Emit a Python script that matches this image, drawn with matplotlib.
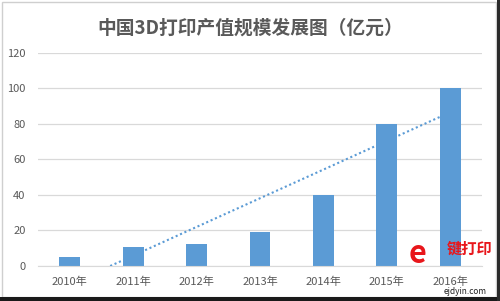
import numpy as np
import matplotlib
matplotlib.use("Agg")
import matplotlib.pyplot as plt
from matplotlib.patches import Rectangle

plt.rcParams['font.family'] = ['Noto Sans CJK SC', 'DejaVu Sans']

# chart data
years = ["2010年", "2011年", "2012年", "2013年", "2014年", "2015年", "2016年"]
values = [4.8, 10.5, 12.4, 19.3, 40, 80, 100]
yticks = [0, 20, 40, 60, 80, 100, 120]

title = "中国3D打印产值规模发展图（亿元）"
bar_color = "#5B9BD5"
text_color = "#595959"
grid_color = "#D9D9D9"


def draw_frame(fig):
    # light border with a dark edge at bottom/right, like the screenshot
    fig.patches.append(Rectangle((0.003, 0.012), 0.988, 0.983, transform=fig.transFigure,
                                 fill=False, edgecolor="#CFCFCF", lw=1.0))
    fig.patches.append(Rectangle((0, 0), 1, 0.012, transform=fig.transFigure,
                                 facecolor="#1A1A1A", edgecolor="none"))
    fig.patches.append(Rectangle((0.994, 0), 0.006, 1, transform=fig.transFigure,
                                 facecolor="#2A2A2A", edgecolor="none"))


def plot_chart():
    fig = plt.figure(figsize=(5, 3.01), dpi=100)
    ax = fig.add_axes([0.076, 0.1163, 0.888, 0.708])

    x = np.arange(len(years))
    ax.bar(x, values, width=0.33, color=bar_color, zorder=2)

    # linear trendline (Excel style), cut at the axis minimum
    slope, intercept = np.polyfit(x, values, 1)
    x0 = max(x[0], -intercept / slope)
    tx = np.array([x0, x[-1]])
    ax.plot(tx, slope * tx + intercept, linestyle=(0, (1, 1.3)), color=bar_color,
            lw=1.5, zorder=3)

    ax.set_xlim(-0.5, len(years) - 0.5)
    ax.set_ylim(0, 120)
    ax.set_yticks(yticks)
    ax.set_xticks(x)
    ax.set_xticklabels(years)
    ax.yaxis.grid(True, color=grid_color, lw=0.9, zorder=0)
    ax.set_axisbelow(True)
    for side in ["top", "right", "left"]:
        ax.spines[side].set_visible(False)
    ax.spines["bottom"].set_color(grid_color)
    ax.tick_params(axis="both", length=0, colors=text_color, labelsize=8)
    ax.tick_params(axis="x", pad=8)
    ax.tick_params(axis="y", pad=9)

    fig.text(0.5, 0.907, title, ha="center", va="center", fontsize=13.5,
             fontweight="bold", color=text_color)

    # watermark in the lower right corner
    fig.text(0.836, 0.155, "e", ha="center", va="center", fontsize=22,
             fontweight="bold", color="#E8161B")
    fig.text(0.94, 0.175, "键打印", ha="center", va="center", fontsize=11,
             fontweight="bold", color="#E8161B")
    fig.text(0.93, 0.03, "ejdyin.com", ha="center", va="center", fontsize=6,
             color="#222222")

    draw_frame(fig)
    fig.savefig("out.png", dpi=100)


if __name__ == "__main__":
    plot_chart()
